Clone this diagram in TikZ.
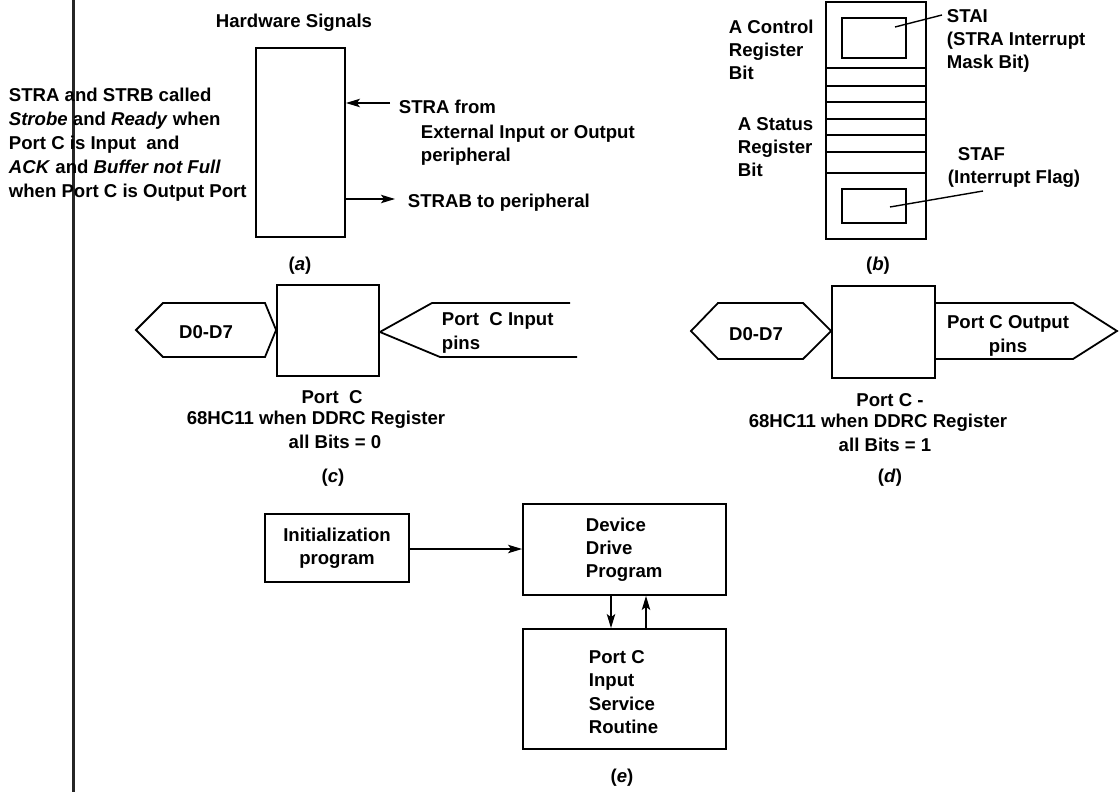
\documentclass[tikz,border=0pt]{standalone}
\usepackage{fontspec}
\setmainfont{Liberation Sans}
\usetikzlibrary{arrows.meta}
\begin{document}
\begin{tikzpicture}[x=0.5pt,y=-0.5pt,
  font=\fontsize{9.3}{11.6}\selectfont\bfseries,
  line width=0.9pt,
  box/.style={draw, line width=0.9pt, inner sep=0pt},
  lbl/.style={inner sep=0pt, align=left},
  clbl/.style={inner sep=0pt, align=center},
  arr/.style={-{Stealth[length=7pt,width=4.2pt,inset=1.5pt]}, line width=0.75pt},
  thin/.style={line width=0.7pt}]
\useasboundingbox (0,0) rectangle (1119,792);

% scan gutter line
\draw[line width=1.5pt, black!85] (73,0) -- (73,792);

% ---------- (a)
\node[lbl] (hw) at (294,23) {Hardware Signals};
\node[box, minimum width=44.5pt, minimum height=94.5pt] (abox) at (300.5,142.5) {};
\node[lbl, anchor=west, font=\fontsize{9.3}{12}\selectfont\bfseries] (note) at (8,145)
 {STRA and STRB called\\\textit{Strobe} and \textit{Ready} when\\Port C is Input\ \ and\\\textit{ACK} and \textit{Buffer not Full}\\when Port C is Output Port};
\coordinate (stra) at (390,103);
\draw[arr] (stra) -- (abox.east |- stra);
\coordinate (strab) at (395,199);
\draw[arr] (abox.east |- strab) -- (strab);
\node[lbl, anchor=west] (t1) at (398,107) {STRA from};
\node[lbl, anchor=west] (t2) at (420,145) {External Input or Output\\peripheral};
\node[lbl, anchor=west] (t3) at (407,203) {STRAB to peripheral};
\node[clbl] (capa) at (300,266) {(\textit{a})};

% ---------- (b)
\node[box, minimum width=50pt, minimum height=118.5pt] (breg) at (876,120.5) {};
\node[box, minimum width=32pt, minimum height=20pt] (stai) at (874,38) {};
\node[box, minimum width=32pt, minimum height=17pt] (staf) at (874,206) {};
\foreach \yy in {68,86,102,119,135,152,173}
  \draw[thin] (breg.west |- 0,\yy) -- (breg.east |- 0,\yy);
\node[lbl, anchor=west] (stait) at (946,41) {STAI\\(STRA Interrupt\\Mask Bit)};
\node[lbl, anchor=west] (staft1) at (957,154) {STAF};
\node[lbl, anchor=west] (staft2) at (947,179) {(Interrupt Flag)};
\coordinate (l1) at (942,15);
\coordinate (l2) at (983,191);
\draw[thin] (895,27) -- (l1);
\draw[thin] (890,207) -- (l2);
\node[lbl, anchor=west] (ctl) at (728,50) {A Control\\Register\\Bit};
\node[lbl, anchor=west] (sts) at (737,147) {A Status\\Register\\Bit};
\node[clbl] (capb) at (878,266) {(\textit{b})};

% ---------- (c)
\node[box, minimum width=51pt, minimum height=45.5pt] (cbox) at (328,330.5) {};
\draw (cbox.west |- 0,330) -- (265,303) -- (163,303) -- (136,330) -- (163,357) -- (265,357) -- cycle;
\node[clbl] (cd) at (206,332) {D0-D7};
\coordinate (cin1) at (570,303);
\coordinate (cin2) at (577,357);
\draw (cin1) -- (432,303) -- (cbox.east |- 0,332) -- (440,357) -- (cin2);
\node[lbl, anchor=west] (cpin) at (441,333) {Port\ \ C Input\\pins};
\node[clbl] (cc1) at (332,397) {Port\ \ C};
\node[clbl] (cc2) at (316,420) {68HC11 when DDRC Register};
\node[clbl] (cc3) at (335,442) {all Bits = 0};
\node[clbl] (capc) at (333,478) {(\textit{c})};

% ---------- (d)
\node[box, minimum width=51.5pt, minimum height=46pt] (dbox) at (883.5,332) {};
\draw (dbox.west |- 0,331) -- (803,303) -- (718,303) -- (691,331) -- (718,359) -- (803,359) -- cycle;
\node[clbl] (dd) at (756,334) {D0-D7};
\draw (dbox.east |- 0,303) -- (1073,303) -- (1117,331) -- (1073,359) -- (dbox.east |- 0,359);
\node[clbl] (dpin) at (1008,336) {Port C Output\\pins};
\node[clbl] (dc1) at (890,400) {Port C -};
\node[clbl] (dc2) at (878,423) {68HC11 when DDRC Register};
\node[clbl] (dc3) at (885,445) {all Bits = 1};
\node[clbl] (capd) at (890,478) {(\textit{d})};

% ---------- (e)
\node[box, minimum width=72pt, minimum height=34pt] (init) at (337,548) {};
\node[clbl] (initt) at (337,548) {Initialization\\program};
\node[box, minimum width=101.5pt, minimum height=45.5pt] (dev) at (624.5,549.5) {};
\node[lbl, anchor=west] (devt) at (585,550) {Device\\Drive\\Program};
\node[box, minimum width=101.5pt, minimum height=60pt] (isr) at (624.5,689) {};
\node[lbl, anchor=west] (isrt) at (588,692) {Port C\\Input\\Service\\Routine};
\draw[arr] (init.east |- 0,549) -- (dev.west |- 0,549);
\draw[arr] (dev.south -| 611,0) -- (isr.north -| 611,0);
\draw[arr] (isr.north -| 646,0) -- (dev.south -| 646,0);
\node[clbl] (cape) at (622,778) {(\textit{e})};
\end{tikzpicture}
\end{document}
